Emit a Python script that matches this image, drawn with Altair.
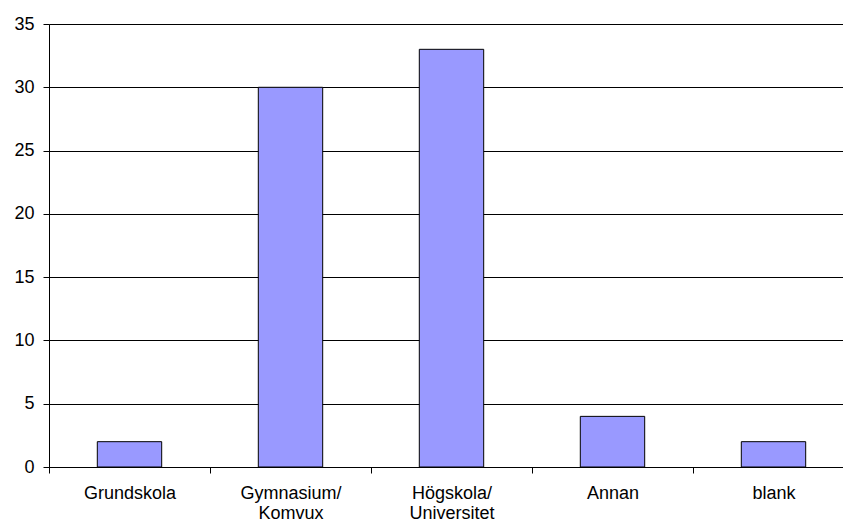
import altair as alt
import pandas as pd

categories = ["Grundskola", "Gymnasium/ Komvux", "Högskola/ Universitet", "Annan", "blank"]
values = [2, 30, 33, 4, 2]

df = pd.DataFrame({"kategori": categories, "antal": values})

FONT = "Liberation Sans"

chart = alt.Chart(df).mark_bar(
    fill="#9999FF", stroke="black", strokeWidth=1,
    width=alt.RelativeBandSize(0.4)
).encode(
    x=alt.X("kategori:N", sort=categories, title=None,
            scale=alt.Scale(range=[0, 805], paddingInner=0, paddingOuter=0),
            axis=alt.Axis(labelAngle=0, tickBand="extent", labelExpr="split(datum.label, ' ')",
                          labelFont=FONT, labelFontSize=18, labelColor="black",
                          labelPadding=11, labelLineHeight=20,
                          tickColor="black", tickSize=6, domainColor="black",
                          labelBaseline="top")),
    y=alt.Y("antal:Q", title=None,
            scale=alt.Scale(domain=[0, 35], nice=False),
            axis=alt.Axis(values=[0, 5, 10, 15, 20, 25, 30, 35], grid=True,
                          gridColor="black", gridOpacity=1, gridWidth=1,
                          labelFont=FONT, labelFontSize=18, labelColor="black",
                          labelPadding=9, tickColor="black", tickSize=6,
                          domainColor="black"))
).properties(
    width=794, height=443,
    padding={"left": 49, "top": 24, "right": 0, "bottom": 60},
    autosize=alt.AutoSizeParams(type="none")
).configure_view(strokeWidth=0).configure(background="white")

chart.save("out.html", embed_options={"renderer": "svg", "actions": False})
